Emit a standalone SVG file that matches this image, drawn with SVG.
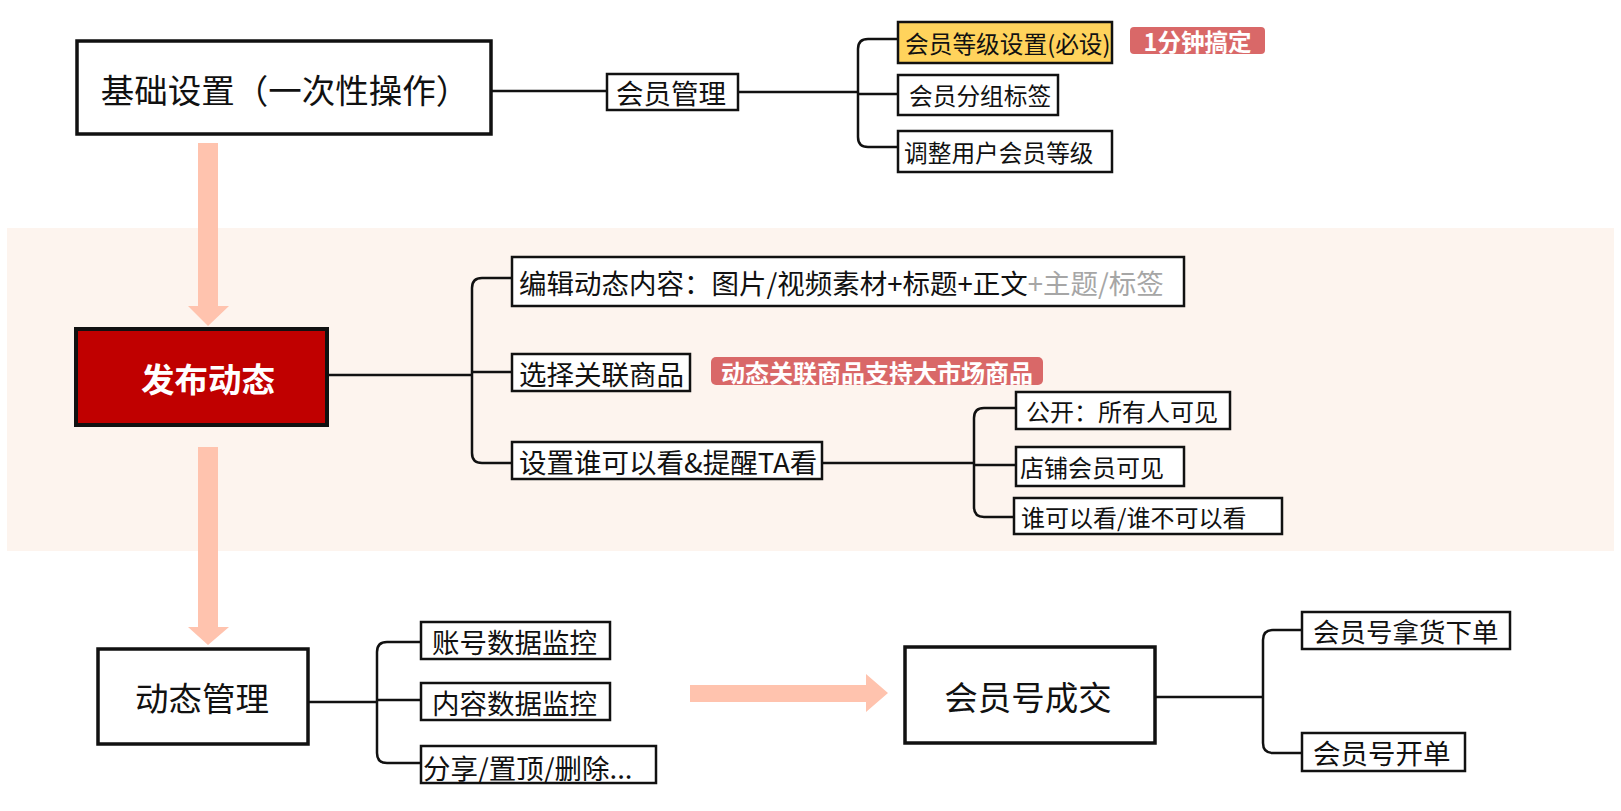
<svg xmlns="http://www.w3.org/2000/svg" width="1621" height="811" viewBox="0 0 1621 811">
<defs>
<style>
text{font-family:"Noto Sans CJK SC","Microsoft YaHei",sans-serif;fill:#111;dominant-baseline:central}
.n{fill:#fff;stroke:#111;stroke-width:2.5}
.big{fill:#fff;stroke:#111;stroke-width:3.5}
.t{font-size:23.7px}
.tm{font-size:27.5px}
.tb{font-size:33.5px;text-anchor:middle}
.c{fill:none;stroke:#111;stroke-width:2.5}
.ar{fill:#FFC3AE}
.badge{fill:#D96868}
.bt{fill:#fff;font-weight:bold;font-size:23.5px}
</style>
</defs>
<rect x="7" y="228" width="1607" height="323" fill="#FDF4EE"/>
<g id="arrows">
<path class="ar" d="M198 143 H218 V306 H229 L208 326 L188 306 H198 Z"/>
<path class="ar" d="M198 447 H218 V627 H229 L208 645 L188 627 H198 Z"/>
<path class="ar" d="M690 685 H866 V674 L888 693 L866 712 V702 H690 Z"/>
</g>
<g id="connectors">
<path class="c" d="M491 91 H607"/>
<path class="c" d="M738 92 H858"/>
<path class="c" d="M898 39 H868 Q858 39 858 49 V137 Q858 147 868 147 H898"/>
<path class="c" d="M858 94 H898"/>
<path class="c" d="M327 375 H472"/>
<path class="c" d="M511 278 H482 Q472 278 472 288 V453 Q472 463 482 463 H512"/>
<path class="c" d="M472 372 H512"/>
<path class="c" d="M822 463 H974"/>
<path class="c" d="M1015 408 H984 Q974 408 974 418 V507 Q974 517 984 517 H1015"/>
<path class="c" d="M974 465 H1016"/>
<path class="c" d="M308 702 H377"/>
<path class="c" d="M421 642 H387 Q377 642 377 652 V753 Q377 763 387 763 H421"/>
<path class="c" d="M377 700 H421"/>
<path class="c" d="M1155 697 H1263"/>
<path class="c" d="M1302 630 H1273 Q1263 630 1263 640 V743 Q1263 753 1273 753 H1302"/>
</g>
<g id="n-jichu"><rect class="big" x="77" y="41" width="414" height="93"/><text class="tb" x="285" y="88">基础设置（一次性操作）</text></g>
<g id="n-huiyuanguanli"><rect class="n" x="607" y="74" width="131" height="36"/><text class="tm" x="616" y="92">会员管理</text></g>
<g id="n-dengji"><rect x="898" y="22" width="214" height="41" fill="#FFD35C" stroke="#111" stroke-width="2.5"/><text class="t" x="905" y="43">会员等级设置(必设)</text></g>
<g id="b-1min"><rect class="badge" x="1130" y="27" width="135" height="27" rx="4"/><text class="bt" x="1197.5" y="40.5" text-anchor="middle">1分钟搞定</text></g>
<g id="n-fenzu"><rect class="n" x="898" y="75" width="160" height="40"/><text class="t" x="909" y="95">会员分组标签</text></g>
<g id="n-tiaozheng"><rect class="n" x="898" y="131" width="214" height="41"/><text class="t" x="904" y="151.5">调整用户会员等级</text></g>
<g id="n-fabu"><rect x="76" y="329" width="251" height="96" fill="#C00000" stroke="#111" stroke-width="4"/><text class="tb" x="208" y="377" style="fill:#fff;font-weight:bold">发布动态</text></g>
<g id="n-bianji"><rect class="n" x="512" y="257" width="672" height="49"/><text class="tm" x="519" y="281.5">编辑动态内容：图片/视频素材+标题+正文<tspan fill="#A6A6A6">+主题/标签</tspan></text></g>
<g id="n-xuanze"><rect class="n" x="512" y="354" width="178" height="37"/><text class="tm" x="519" y="372.5">选择关联商品</text></g>
<g id="b-dashichang"><rect class="badge" x="711" y="357" width="332" height="28" rx="5"/><text class="bt" x="877" y="371" text-anchor="middle" style="font-size:24px">动态关联商品支持大市场商品</text></g>
<g id="n-shezhi"><rect class="n" x="512" y="442" width="310" height="37"/><text class="tm" x="519" y="460.5">设置谁可以看&amp;提醒TA看</text></g>
<g id="n-gongkai"><rect class="n" x="1016" y="392" width="214" height="37"/><text class="t" x="1026" y="410.5" style="font-size:24px">公开：所有人可见</text></g>
<g id="n-dianpu"><rect class="n" x="1016" y="447" width="168" height="39"/><text class="t" x="1020" y="466.5" style="font-size:24px">店铺会员可见</text></g>
<g id="n-shui"><rect class="n" x="1014" y="498" width="268" height="36"/><text class="t" x="1021" y="516" style="font-size:24px">谁可以看/谁不可以看</text></g>
<g id="n-guanli"><rect class="big" x="98" y="649" width="210" height="95"/><text class="tb" x="202" y="696">动态管理</text></g>
<g id="n-zhanghao"><rect class="n" x="421" y="622" width="189" height="37"/><text class="tm" x="432" y="640.5">账号数据监控</text></g>
<g id="n-neirong"><rect class="n" x="421" y="683" width="189" height="37"/><text class="tm" x="432" y="701.5">内容数据监控</text></g>
<g id="n-fenxiang"><rect class="n" x="421" y="746" width="235" height="37"/><text class="tm" x="423" y="767">分享/置顶/删除...</text></g>
<g id="n-chengjiao"><rect class="big" x="905" y="647" width="250" height="96"/><text class="tb" x="1028" y="695">会员号成交</text></g>
<g id="n-nahuo"><rect class="n" x="1302" y="612" width="208" height="37"/><text class="tm" x="1313" y="630.5" style="font-size:26.5px">会员号拿货下单</text></g>
<g id="n-kaidan"><rect class="n" x="1302" y="733" width="163" height="38"/><text class="tm" x="1313" y="752">会员号开单</text></g>
</svg>
